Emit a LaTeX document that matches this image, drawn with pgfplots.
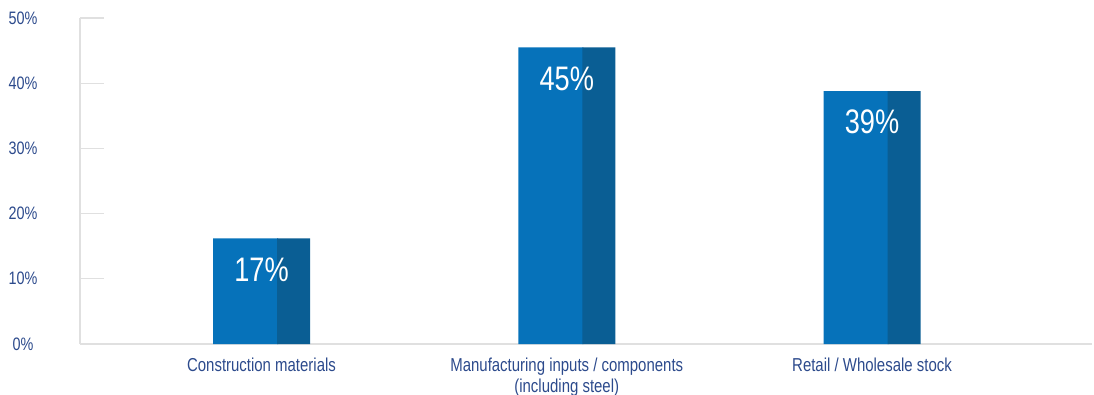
\documentclass[border=0pt]{standalone}
\usepackage{fontspec}
\setmainfont{Liberation Sans}[FakeStretch=0.8]
\usepackage{pgfplots}
\pgfplotsset{compat=1.18}
\definecolor{txt}{RGB}{44,74,140}
\definecolor{barL}{RGB}{6,114,186}
\definecolor{barD}{RGB}{10,94,148}
\definecolor{axg}{RGB}{224,224,224}
\begin{document}
\begin{tikzpicture}
\path[use as bounding box] (0,0) rectangle (1094pt,394pt);
\begin{axis}[
  at={(80pt,50pt)}, anchor=south west,
  scale only axis, width=1012pt, height=326pt,
  xmin=-0.5946, xmax=2.7207,
  ymin=0, ymax=50,
  axis x line*=bottom, axis y line*=left,
  axis line style={draw=axg, line width=1.2pt},
  ytick={0,10,20,30,40,50},
  yticklabels={0\%,10\%,20\%,30\%,40\%,50\%},
  xtick={0,1,2},
  xticklabels={Construction materials,Manufacturing inputs / components\\(including steel),Retail / Wholesale stock},
  major tick length=24pt,
  tick align=inside,
  xtick style={draw=none},
  ytick style={draw=axg, line width=1.2pt},
  yticklabel style={anchor=center, xshift=-57pt, font=\fontsize{18}{21}\selectfont, text=txt},
  xticklabel style={align=center, yshift=14pt, font=\fontsize{18.7}{21}\selectfont, text=txt},
  ybar, bar width=65pt,
  clip=false,
]
\addplot[fill=barL, draw=none, bar shift=-16pt] coordinates {(0,16.2) (1,45.5) (2,38.8)};
\addplot[fill=barD, draw=none, bar width=33pt, bar shift=32pt,
  point meta=explicit symbolic,
  nodes near coords,
  every node near coord/.append style={anchor=north, inner sep=0pt, xshift=-32pt, yshift=-19pt, text=white, font=\fontsize{34}{38}\selectfont}]
  coordinates {(0,16.2) [17\%] (1,45.5) [45\%] (2,38.8) [39\%]};
\end{axis}
\end{tikzpicture}
\end{document}
